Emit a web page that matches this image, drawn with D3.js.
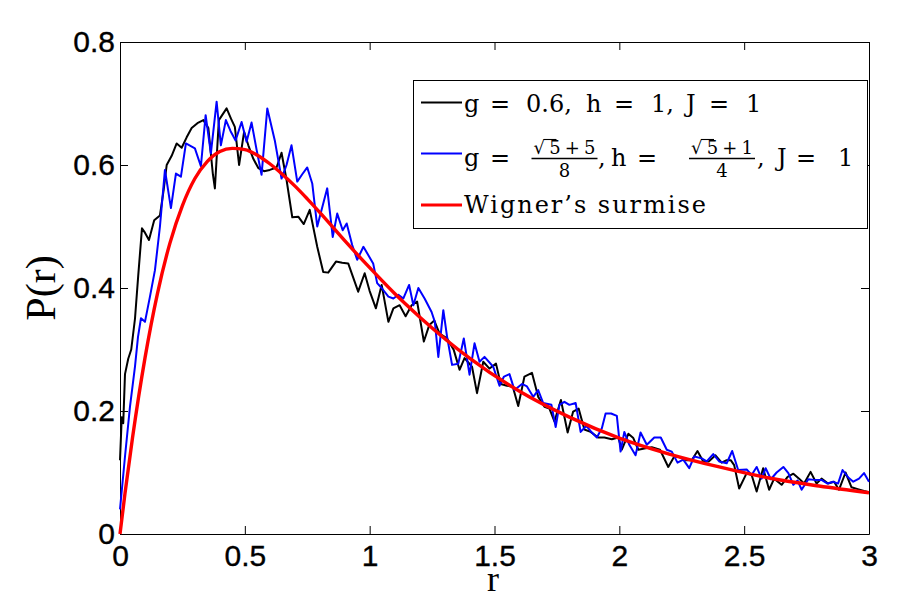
<!DOCTYPE html>
<html><head><meta charset="utf-8">
<script src="https://cdn.jsdelivr.net/npm/d3@7"></script>
<style>body{margin:0;background:#fff}svg{display:block;background:#fff}</style>
</head><body><svg id="c" width="921" height="600"></svg>
<script>
const xTicks=[0,0.5,1,1.5,2,2.5,3];
const xTickLabels=["0","0.5","1","1.5","2","2.5","3"];
const yTicks=[0,0.2,0.4,0.6,0.8];
const yTickLabels=["0","0.2","0.4","0.6","0.8"];

const blackR=[0,0.007,0.013,0.02,0.033,0.045,0.06,0.073,0.088,0.1,0.116,0.137,0.16,0.175,0.187,0.207,0.227,0.247,0.267,0.287,0.31,0.334,0.354,0.372,0.38,0.396,0.427,0.445,0.46,0.477,0.497,0.514,0.534,0.554,0.577,0.6,0.627,0.647,0.667,0.69,0.714,0.736,0.76,0.79,0.814,0.834,0.865,0.89,0.914,0.954,0.98,1.0,1.025,1.048,1.075,1.095,1.12,1.144,1.168,1.19,1.217,1.239,1.259,1.28,1.31,1.337,1.36,1.38,1.41,1.43,1.455,1.48,1.506,1.525,1.55,1.573,1.595,1.62,1.65,1.675,1.7,1.72,1.74,1.766,1.793,1.815,1.837,1.86,1.885,1.915,1.94,1.97,1.996,2.01,2.036,2.056,2.076,2.1,2.13,2.163,2.196,2.22,2.24,2.27,2.29,2.313,2.336,2.358,2.385,2.41,2.43,2.446,2.46,2.48,2.51,2.53,2.55,2.576,2.6,2.62,2.65,2.674,2.697,2.72,2.74,2.766,2.79,2.81,2.836,2.86,2.88,2.906,2.93,2.955,2.98,3.0];
const blackP=[0.12,0.19,0.18,0.26,0.285,0.30,0.35,0.42,0.497,0.49,0.478,0.51,0.518,0.56,0.60,0.615,0.635,0.628,0.645,0.66,0.668,0.673,0.66,0.585,0.562,0.673,0.692,0.675,0.662,0.60,0.654,0.632,0.61,0.595,0.59,0.592,0.596,0.62,0.576,0.515,0.516,0.504,0.527,0.467,0.426,0.425,0.443,0.441,0.44,0.394,0.424,0.395,0.367,0.405,0.345,0.367,0.372,0.354,0.372,0.378,0.313,0.34,0.347,0.326,0.318,0.299,0.267,0.286,0.272,0.229,0.28,0.269,0.277,0.244,0.241,0.24,0.208,0.256,0.262,0.223,0.207,0.204,0.183,0.218,0.165,0.199,0.204,0.17,0.166,0.157,0.157,0.154,0.157,0.137,0.163,0.156,0.137,0.139,0.141,0.137,0.109,0.126,0.125,0.12,0.12,0.135,0.118,0.118,0.128,0.116,0.12,0.12,0.112,0.074,0.099,0.096,0.069,0.107,0.072,0.09,0.08,0.093,0.098,0.09,0.082,0.101,0.082,0.09,0.082,0.085,0.072,0.10,0.076,0.073,0.07,0.068];

const blueR=[0,0.02,0.04,0.06,0.072,0.084,0.1,0.12,0.14,0.16,0.18,0.204,0.224,0.244,0.264,0.3,0.324,0.343,0.364,0.387,0.404,0.424,0.443,0.463,0.487,0.507,0.527,0.547,0.567,0.59,0.62,0.647,0.667,0.687,0.71,0.73,0.75,0.77,0.79,0.83,0.852,0.87,0.892,0.908,0.93,0.95,0.975,1.014,1.03,1.048,1.075,1.095,1.115,1.135,1.158,1.175,1.195,1.22,1.248,1.261,1.275,1.295,1.31,1.33,1.355,1.377,1.4,1.42,1.44,1.46,1.495,1.52,1.538,1.56,1.58,1.61,1.63,1.655,1.675,1.695,1.728,1.745,1.76,1.78,1.8,1.825,1.845,1.868,1.89,1.91,1.93,1.945,1.967,1.99,2.005,2.02,2.04,2.065,2.085,2.11,2.14,2.166,2.19,2.21,2.233,2.256,2.28,2.3,2.33,2.35,2.376,2.4,2.43,2.452,2.476,2.51,2.53,2.55,2.57,2.586,2.607,2.63,2.657,2.677,2.697,2.714,2.73,2.757,2.78,2.81,2.834,2.856,2.876,2.894,2.917,2.937,2.96,2.98,3.0];
const blueP=[0.04,0.126,0.207,0.272,0.32,0.351,0.345,0.386,0.429,0.50,0.592,0.53,0.586,0.581,0.635,0.627,0.598,0.681,0.619,0.703,0.632,0.673,0.655,0.64,0.67,0.638,0.669,0.625,0.584,0.692,0.64,0.578,0.60,0.632,0.573,0.585,0.596,0.57,0.50,0.562,0.483,0.521,0.494,0.505,0.47,0.446,0.467,0.44,0.408,0.40,0.386,0.383,0.389,0.383,0.405,0.372,0.40,0.383,0.361,0.345,0.288,0.364,0.321,0.275,0.277,0.318,0.259,0.31,0.28,0.288,0.272,0.241,0.256,0.26,0.234,0.244,0.24,0.223,0.234,0.213,0.21,0.174,0.21,0.215,0.21,0.213,0.166,0.176,0.165,0.157,0.172,0.196,0.196,0.192,0.134,0.166,0.145,0.128,0.165,0.145,0.157,0.157,0.137,0.134,0.116,0.121,0.107,0.126,0.123,0.118,0.13,0.118,0.115,0.135,0.104,0.105,0.096,0.109,0.09,0.107,0.089,0.10,0.109,0.099,0.08,0.087,0.072,0.089,0.088,0.088,0.082,0.085,0.082,0.104,0.092,0.085,0.09,0.099,0.085];

const wignerR=[0,0.02,0.05,0.1,0.15,0.2,0.25,0.3,0.35,0.4,0.45,0.5,0.55,0.6,0.65,0.7,0.75,0.8,0.9,1.0,1.1,1.2,1.4,1.6,1.8,2.0,2.2,2.4,2.6,2.8,3.0];
const wignerP=[0,0.066,0.156,0.286,0.391,0.473,0.534,0.578,0.606,0.622,0.627,0.625,0.616,0.602,0.585,0.566,0.545,0.523,0.477,0.433,0.391,0.353,0.286,0.232,0.190,0.156,0.130,0.109,0.091,0.078,0.067];

const seriesLabels=["g = 0.6, h = 1, J = 1","g = (√5+5)/8, h = (√5+1)/4, J = 1","Wigner’s surmise"];
const seriesColors=["#000000","#0000ff","#ff0000"];

const svg=d3.select("#c");
const x=d3.scaleLinear().domain([0,3]).range([120,869]);
const y=d3.scaleLinear().domain([0,0.8]).range([534,42]);
const tickFont='"Liberation Sans", Arial, sans-serif';
const serif='"Liberation Serif", "Times New Roman", serif';
const lgSerif='"DejaVu Serif", serif';

function styleAxis(g){
  g.attr("font-family",tickFont).attr("font-size",30);
  g.selectAll(".domain").attr("stroke","#000").attr("stroke-width",1);
  g.selectAll(".tick line").attr("stroke","#000").attr("stroke-width",1);
  g.selectAll(".tick text").attr("fill","#000").attr("stroke","#000").attr("stroke-width",0.35);
}
svg.append("g").attr("transform","translate(0,534)")
  .call(d3.axisBottom(x).tickValues(xTicks).tickFormat((d,i)=>xTickLabels[i]).tickSizeInner(-8).tickSizeOuter(0).tickPadding(11))
  .call(styleAxis);
svg.append("g").attr("transform","translate(0,42)")
  .call(d3.axisTop(x).tickValues(xTicks).tickFormat("").tickSizeInner(-8).tickSizeOuter(0))
  .call(styleAxis);
svg.append("g").attr("transform","translate(120,0)")
  .call(d3.axisLeft(y).tickValues(yTicks).tickFormat((d,i)=>yTickLabels[i]).tickSizeInner(-8).tickSizeOuter(0).tickPadding(5))
  .call(styleAxis);
svg.append("g").attr("transform","translate(869,0)")
  .call(d3.axisRight(y).tickValues(yTicks).tickFormat("").tickSizeInner(-8).tickSizeOuter(0))
  .call(styleAxis);

const line=d3.line().x(d=>x(d[0])).y(d=>y(d[1]));
const smooth=d3.line().x(d=>x(d[0])).y(d=>y(d[1])).curve(d3.curveMonotoneX);
const blackData=blackR.map((r,i)=>[r,blackP[i]]);
const blueData=blueR.map((r,i)=>[r,blueP[i]]);
const wignerData=wignerR.map((r,i)=>[r,wignerP[i]]);

svg.append("path").datum(blackData).attr("d",line).attr("fill","none").attr("stroke",seriesColors[0]).attr("stroke-width",2).attr("stroke-linejoin","round");
svg.append("path").datum(blueData).attr("d",line).attr("fill","none").attr("stroke",seriesColors[1]).attr("stroke-width",2).attr("stroke-linejoin","round");
svg.append("path").datum(wignerData).attr("d",smooth).attr("fill","none").attr("stroke",seriesColors[2]).attr("stroke-width",3.4);

// axis labels
svg.append("text").attr("transform","translate(55,288) rotate(-90)").attr("text-anchor","middle")
  .attr("font-family",serif).attr("font-size",42).text("P(r)");
svg.append("text").attr("x",493).attr("y",591).attr("text-anchor","middle")
  .attr("font-family",serif).attr("font-size",36).text("r");

// legend
const lg=svg.append("g");
lg.append("rect").attr("x",413.5).attr("y",80.5).attr("width",454).attr("height",148).attr("fill","#fff").attr("stroke","#000").attr("stroke-width",1);
const rowY=[102.5,153.5,205];
const lw=[2,2,3.2];
rowY.forEach((yy,i)=>{
  lg.append("line").attr("x1",421).attr("x2",462).attr("y1",yy).attr("y2",yy).attr("stroke",seriesColors[i]).attr("stroke-width",lw[i]);
});
const fs=24;
function pieces(baseline,list){
  const t=lg.append("text").attr("y",baseline).attr("font-family",lgSerif).attr("font-size",fs).attr("fill","#000");
  list.forEach(p=>t.append("tspan").attr("x",p[0]).text(p[1]));
  return t;
}
// row 1
pieces(112.3,[[464,"g"],[490,"="],[526,"0.6,"],[586,"h"],[614,"="],[651,"1,"],[686,"J"],[709,"="],[746,"1"]]);
// row 2
const b2=165.7;
pieces(b2,[[464,"g"],[490,"="],[598,","],[611,"h"],[637,"="],[757,","],[777,"J"],[796,"="],[838,"1"]]);
function frac(x0,x1,num2,den){
  const nfs=18, ny=154, barY=158.5;
  const cx=(x0+x1)/2;
  lg.append("text").attr("x",cx).attr("y",ny).attr("text-anchor","middle").attr("font-family",lgSerif).attr("font-size",nfs)
    .attr("textLength",x1-x0-4).attr("lengthAdjust","spacing").text("√5+"+num2);
  lg.append("line").attr("x1",x0+12).attr("x2",x0+25).attr("y1",139.5).attr("y2",139.5).attr("stroke","#000").attr("stroke-width",1.1);
  lg.append("line").attr("x1",x0).attr("x2",x1).attr("y1",barY).attr("y2",barY).attr("stroke","#000").attr("stroke-width",1.3);
  lg.append("text").attr("x",cx).attr("y",177).attr("text-anchor","middle").attr("font-family",lgSerif).attr("font-size",nfs).text(den);
}
frac(531.5,597.5,"5","8");
frac(689,755,"1","4");
// row 3
lg.append("text").attr("x",464).attr("y",213.3).attr("font-family",lgSerif).attr("font-size",fs)
  .attr("textLength",242).attr("lengthAdjust","spacing").text(seriesLabels[2]);
</script>
</body></html>
